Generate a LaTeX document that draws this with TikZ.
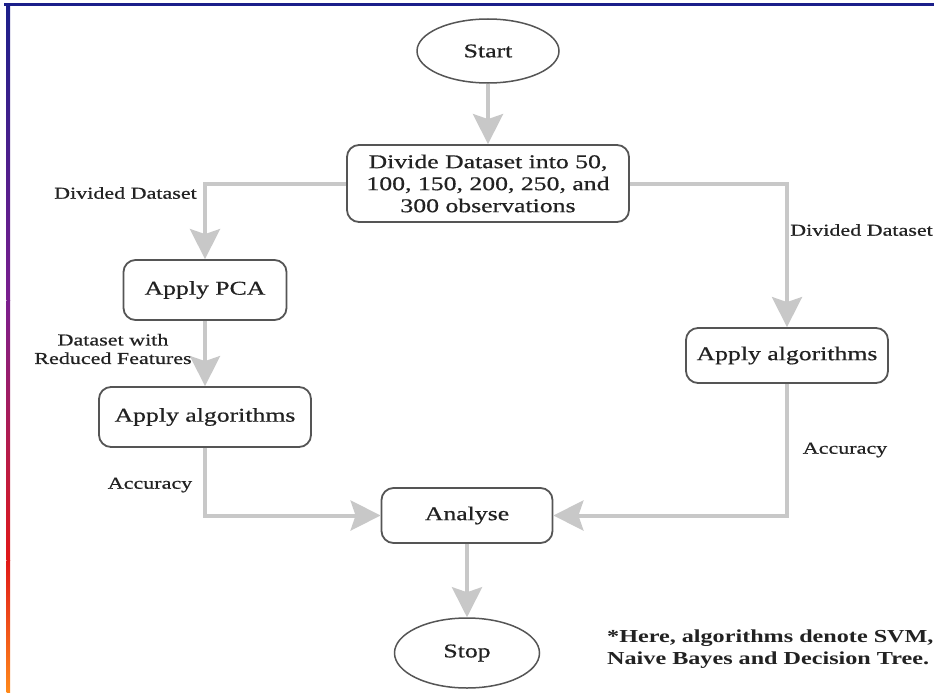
\documentclass[tikz,border=0pt]{standalone}
\usepackage{fontspec}
\setmainfont{Liberation Serif}[FakeStretch=1.32, UprightFeatures={FakeBold=0.6}]
\usetikzlibrary{shapes.geometric,arrows.meta}

\definecolor{linkgray}{HTML}{C8C8C8}
\definecolor{edgegray}{HTML}{555555}
\definecolor{inkgray}{HTML}{222222}
\definecolor{frameblue}{HTML}{1B1F8A}
\definecolor{framepurple}{HTML}{7A1E8E}
\definecolor{framered}{HTML}{E01818}
\definecolor{frameorange}{HTML}{FF8A1A}

\begin{document}
\begin{tikzpicture}[x=1pt,y=-1pt,
  boxtext/.style={font=\fontsize{19.5}{22}\selectfont, text=inkgray},
  stepbox/.style={boxtext, draw=edgegray, line width=1.8pt, rounded corners=12pt,
                  fill=white, align=center, inner sep=0pt},
  terminal/.style={boxtext, ellipse, draw=edgegray, line width=1.5pt, fill=white, inner sep=0pt},
  flow/.style={draw=linkgray, line width=4pt,
               -{Stealth[length=30pt, width=30pt, inset=5pt, fill=linkgray]}},
  lbl/.style={font=\fontsize{16.7}{18.5}\selectfont, text=inkgray, inner sep=0pt, align=center},
  note/.style={font=\fontsize{18.3}{22}\selectfont\bfseries, text=inkgray, inner sep=0pt, align=left}
]
\useasboundingbox (0,0) rectangle (934,693);
\fill[white] (0,0) rectangle (934,693);

% frame: blue rule on top, coloured rule down the left side
\draw[frameblue, line width=3pt] (4,5) -- (934,5);
\shade[top color=frameblue, bottom color=framepurple] (6.5,4) rectangle (10,300);
\shade[top color=framepurple, bottom color=framered] (6.5,300) rectangle (10,560);
\shade[top color=framered, bottom color=frameorange] (6.5,560) rectangle (10,693);

% nodes
\node[terminal, minimum width=142pt, minimum height=64pt] (start) at (488,51) {Start};
\node[stepbox, minimum width=282pt, minimum height=77pt] (divide) at (488,183.5)
  {Divide Dataset into 50,\\100, 150, 200, 250, and\\300 observations};
\node[stepbox, minimum width=163pt, minimum height=60pt] (pca) at (205,290) {Apply PCA};
\node[stepbox, minimum width=212pt, minimum height=60pt] (algl) at (205,417) {Apply algorithms};
\node[stepbox, minimum width=202pt, minimum height=55pt] (algr) at (787,355.5) {Apply algorithms};
\node[stepbox, minimum width=171pt, minimum height=55pt] (analyse) at (467,515.5) {Analyse};
\node[terminal, minimum width=145pt, minimum height=70pt] (stop) at (467,653) {Stop};

% connectors
\draw[flow] (start) -- (divide);
\draw[flow] (divide.west) -| (pca.north);
\draw[flow] (pca) -- (algl);
\draw[flow] (divide.east) -| (algr.north);
\draw[flow] (algl.south) |- (analyse.west);
\draw[flow] (algr.south) |- (analyse.east);
\draw[flow] (analyse) -- (stop);

% connector labels
\node[lbl, anchor=east] (lbldivl) at (197,193) {Divided Dataset};
\node[lbl, anchor=west] (lbldivr) at (790,230) {Divided Dataset};
\node[lbl] (lblreduced) at (113,349) {Dataset with\\Reduced Features};
\node[lbl] (lblaccl) at (150,485) {Accuracy};
\node[lbl] (lblaccr) at (845,450) {Accuracy};

% footnote
\node[note, anchor=west] (footnote) at (607,649)
  {*Here, algorithms denote SVM,\\Naive Bayes and Decision Tree.};
\end{tikzpicture}
\end{document}
